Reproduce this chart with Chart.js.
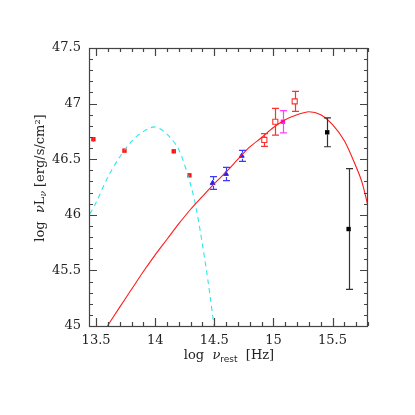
<!DOCTYPE html>
<html>
<head>
<meta charset="utf-8">
<script src="https://cdn.jsdelivr.net/npm/chart.js@4.4.0/dist/chart.umd.min.js"></script>
<style>
  html, body { margin: 0; padding: 0; background: #fff; }
</style>
</head>
<body>
<canvas id="myChart" width="415" height="415"></canvas>
<script>
// axis ranges
const xMin = 13.44, xMax = 15.8;
const yMin = 45, yMax = 47.5;

// model curves
const diskX = [13.596, 13.7, 13.8, 13.9, 14.0, 14.1, 14.2, 14.3, 14.4, 14.5, 14.6, 14.7, 14.8, 14.9, 15.0, 15.1, 15.2, 15.3, 15.4, 15.5, 15.6, 15.7, 15.75, 15.8];
const diskY = [45.0, 45.17, 45.33, 45.49, 45.64, 45.78, 45.92, 46.05, 46.165, 46.28, 46.385, 46.50, 46.61, 46.695, 46.785, 46.855, 46.90, 46.927, 46.90, 46.81, 46.665, 46.43, 46.29, 46.08];
const torusX = [13.447, 13.5, 13.6, 13.7, 13.8, 13.9, 14.0, 14.1, 14.2, 14.3, 14.35, 14.4, 14.45, 14.5];
const torusY = [46.007, 46.11, 46.34, 46.52, 46.66, 46.75, 46.79, 46.725, 46.585, 46.27, 46.04, 45.73, 45.38, 44.98];

// photometry
const irX = [13.477, 13.74, 14.157, 14.289];
const irY = [46.68, 46.577, 46.571, 46.355];
const irErr = [0.02, 0.01, 0.01, 0.01];
const optX = [14.486, 14.599, 14.732];
const optY = [46.286, 46.367, 46.53];
const optErr = [0.057, 0.06, 0.05];
const uvX = [14.923, 15.016, 15.18];
const uvY = [46.673, 46.837, 47.02];
const uvErr = [0.057, 0.12, 0.09];
const magX = [15.08];
const magY = [46.837];
const magErr = [0.1];
const xrX = [15.455, 15.636];
const xrY = [46.742, 45.872];
const xrErr = [0.13, 0.543];

const yTicks = [45, 45.5, 46, 46.5, 47, 47.5];

function pts(xs, ys) {
  return xs.map((x, i) => ({ x: x, y: ys[i] }));
}

const errorBars = {
  id: "errorBars",
  afterDatasetsDraw(chart) {
    const ctx = chart.ctx;
    const ys = chart.scales.y;
    chart.data.datasets.forEach((ds, di) => {
      if (!ds.errors) return;
      const meta = chart.getDatasetMeta(di);
      ctx.save();
      ctx.strokeStyle = ds.errColor || ds.borderColor;
      ctx.lineWidth = 1.2;
      meta.data.forEach((el, i) => {
        const v = ds.data[i].y, e = ds.errors[i];
        const px = Math.round(el.x) + 0.5;
        const top = ys.getPixelForValue(v + e);
        const bot = ys.getPixelForValue(v - e);
        const h = ds.gap || 0;
        ctx.beginPath();
        if (top < el.y - h) { ctx.moveTo(px, top); ctx.lineTo(px, el.y - h); }
        if (bot > el.y + h) { ctx.moveTo(px, el.y + h); ctx.lineTo(px, bot); }
        if (e > 0.03) {
          ctx.moveTo(px - 3.5, top); ctx.lineTo(px + 3.5, top);
          ctx.moveTo(px - 3.5, bot); ctx.lineTo(px + 3.5, bot);
        }
        ctx.stroke();
      });
      ctx.restore();
    });
  }
};

function drawRuns(ctx, runs, cx, cy, rot) {
  ctx.save();
  ctx.translate(cx, cy);
  ctx.rotate(rot);
  let w = 0;
  runs.forEach(r => { ctx.font = r.font; w += ctx.measureText(r.t).width; });
  let x = -w / 2;
  ctx.textBaseline = "middle";
  ctx.fillStyle = "#222";
  runs.forEach(r => {
    ctx.font = r.font;
    ctx.fillText(r.t, x, r.dy || 0);
    x += ctx.measureText(r.t).width;
  });
  ctx.restore();
}

const frame = {
  id: "frame",
  afterDraw(chart) {
    const { ctx, chartArea: a, scales } = chart;
    ctx.save();
    ctx.strokeStyle = "#444";
    ctx.lineWidth = 1.2;
    ctx.strokeRect(a.left + 0.5, a.top + 0.5, a.right - a.left - 1, a.bottom - a.top);
    ctx.beginPath();
    for (let k = 135; k <= 158; k++) {
      const px = Math.round(scales.x.getPixelForValue(k / 10)) + 0.5;
      const len = k % 5 === 0 ? 8 : 4;
      ctx.moveTo(px, a.bottom); ctx.lineTo(px, a.bottom - len);
      ctx.moveTo(px, a.top); ctx.lineTo(px, a.top + len);
    }
    for (let k = 450; k <= 475; k++) {
      const py = Math.round(scales.y.getPixelForValue(k / 10)) + 0.5;
      const len = k % 5 === 0 ? 8 : 4;
      ctx.moveTo(a.left, py); ctx.lineTo(a.left + len, py);
      ctx.moveTo(a.right, py); ctx.lineTo(a.right - len, py);
    }
    ctx.stroke();
    ctx.restore();

    const f = "13px 'DejaVu Serif'";
    const fi = "italic 13px 'DejaVu Serif'";
    const fs = "9px 'DejaVu Sans'";
    drawRuns(ctx, [
      { t: "log  ", font: f },
      { t: "\u03BD", font: fi },
      { t: "rest", font: fs, dy: 4 },
      { t: "  [Hz]", font: f }
    ], 229, 356, 0);
    drawRuns(ctx, [
      { t: "log  ", font: f },
      { t: "\u03BD", font: fi },
      { t: "L", font: f },
      { t: "\u03BD", font: "italic 9px 'DejaVu Serif'", dy: 3 },
      { t: " [erg/s/cm\u00B2]", font: f }
    ], 41, 178, -Math.PI / 2);
  }
};

new Chart(document.getElementById("myChart"), {
  type: "scatter",
  data: {
    datasets: [
      {
        data: pts(diskX, diskY), showLine: true, borderColor: "#ff1a1a",
        borderWidth: 1.1, pointRadius: 0, tension: 0.3
      },
      {
        data: pts(torusX, torusY), showLine: true, borderColor: "#2ee6f0",
        borderWidth: 1.1, borderDash: [5, 4], pointRadius: 0, tension: 0.3
      },
      {
        data: pts(irX, irY), errors: irErr, pointStyle: "rect", pointRadius: 3.1,
        backgroundColor: "#ff1010", borderColor: "#ff1010", borderWidth: 0, errColor: "#ff3030"
      },
      {
        data: pts(optX, optY), errors: optErr, pointStyle: "triangle", pointRadius: 2.8,
        backgroundColor: "#2020ff", borderColor: "#2020ff", borderWidth: 1, errColor: "#3a3aff", gap: 3
      },
      {
        data: pts(uvX, uvY), errors: uvErr, pointStyle: "rect", pointRadius: 3.6,
        backgroundColor: "rgba(0,0,0,0)", borderColor: "#ff3030", borderWidth: 1.1, gap: 2.5
      },
      {
        data: pts(magX, magY), errors: magErr, pointStyle: "rect", pointRadius: 3.1,
        backgroundColor: "#ff10ff", borderColor: "#ff10ff", borderWidth: 0, errColor: "#ff40ff", gap: 2
      },
      {
        data: pts(xrX, xrY), errors: xrErr, pointStyle: "rect", pointRadius: 3.1,
        backgroundColor: "#000", borderColor: "#000", borderWidth: 0, errColor: "#333", gap: 2
      }
    ]
  },
  options: {
    responsive: false,
    animation: false,
    events: [],
    layout: { padding: { top: 48, right: 47, left: 0, bottom: 0 } },
    plugins: { legend: { display: false }, tooltip: { enabled: false } },
    scales: {
      x: {
        type: "linear", min: xMin, max: xMax,
        grid: { display: false, drawTicks: false },
        border: { display: false },
        afterFit: (s) => { s.height = 89; },
        ticks: {
          stepSize: 0.5, includeBounds: false, padding: 7, color: "#222",
          font: { family: "DejaVu Serif", size: 13 },
          maxRotation: 0, autoSkip: false,
          callback: (v) => String(+v.toFixed(1))
        }
      },
      y: {
        type: "linear", min: yMin, max: yMax,
        grid: { display: false, drawTicks: false },
        border: { display: false },
        afterFit: (s) => { s.width = 89; },
        afterBuildTicks: (s) => { s.ticks = yTicks.map(v => ({ value: v })); },
        ticks: {
          padding: 8, color: "#222",
          font: { family: "DejaVu Serif", size: 13 },
          callback: (v) => String(+v.toFixed(1))
        }
      }
    }
  },
  plugins: [errorBars, frame]
});
</script>
</body>
</html>
